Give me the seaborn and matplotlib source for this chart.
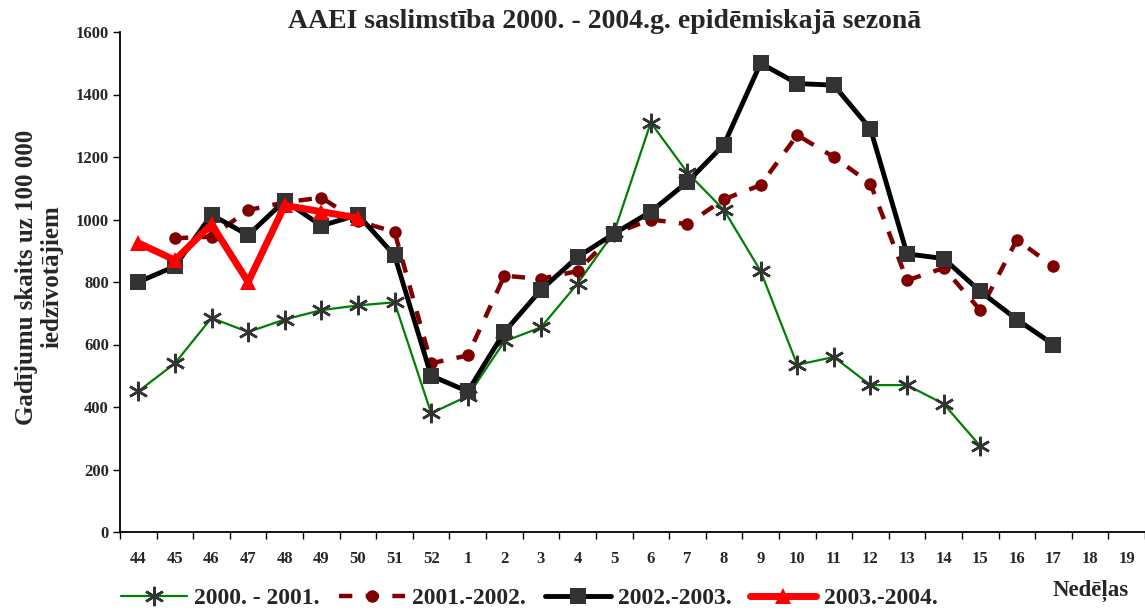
import numpy as np
import pandas as pd
import matplotlib
matplotlib.use("Agg")
import matplotlib.pyplot as plt
import seaborn as sns

# Weeks of the epidemic season
weeks = ["44", "45", "46", "47", "48", "49", "50", "51", "52",
         "1", "2", "3", "4", "5", "6", "7", "8", "9", "10",
         "11", "12", "13", "14", "15", "16", "17", "18", "19"]

# Incidence per 100 000 inhabitants (None = no data)
s_2000_2001 = [450, 540, 685, 640, 680, 710, 725, 735, 380,
               435, 610, 655, 795, 960, 1310, 1150, 1030, 835, 535,
               560, 470, 470, 410, 275, None, None, None, None]
s_2001_2002 = [None, 940, 945, 1030, 1055, 1070, 995, 960, 540,
               565, 820, 810, 835, 955, 1000, 985, 1065, 1110, 1270,
               1200, 1115, 805, 845, 710, 935, 850, None, None]
s_2002_2003 = [800, 850, 1015, 950, 1060, 980, 1015, 885, 500,
               450, 640, 775, 880, 955, 1025, 1120, 1240, 1500, 1435,
               1430, 1290, 890, 875, 770, 680, 600, None, None]
s_2003_2004 = [925, 870, 985, 800, 1045, 1025, 1005, None, None,
               None, None, None, None, None, None, None, None, None, None,
               None, None, None, None, None, None, None, None, None]

series = [
    ("2000. - 2001.", s_2000_2001),
    ("2001.-2002.", s_2001_2002),
    ("2002.-2003.", s_2002_2003),
    ("2003.-2004.", s_2003_2004),
]

styles = {
    "2000. - 2001.": dict(color="#008000", lw=1.6, marker=(6, 2, 0), ms=14,
                          mfc="#333333", mec="#333333", mew=1.8, ls="-"),
    "2001.-2002.": dict(color="#800000", lw=3.2, marker="o", ms=9,
                        mfc="#800000", mec="#800000", mew=0, ls=(0, (3, 3))),
    "2002.-2003.": dict(color="black", lw=3.5, marker="s", ms=11,
                        mfc="#333333", mec="#333333", mew=0, ls="-"),
    "2003.-2004.": dict(color="#ff0000", lw=5, marker="^", ms=12,
                        mfc="#ff0000", mec="#ff0000", mew=0, ls="-"),
}

sns.set_theme(style="white")
plt.rcParams["font.family"] = ["Liberation Serif", "DejaVu Serif"]
plt.rcParams["font.weight"] = "bold"

fig = plt.figure(figsize=(11.45, 6.13), dpi=100)
ax = fig.add_axes([120 / 1145, 1 - 532 / 613, 1025 / 1145, 500 / 613])

for name, vals in series:
    df = pd.DataFrame({"pos": np.arange(len(weeks)), "value": vals}).dropna()
    st = styles[name]
    sns.lineplot(data=df, x="pos", y="value", ax=ax, label=name,
                 color=st["color"], linewidth=st["lw"], linestyle=st["ls"],
                 marker=st["marker"], markersize=st["ms"],
                 markerfacecolor=st["mfc"], markeredgecolor=st["mec"],
                 markeredgewidth=st["mew"], legend=False)

ax.set_xlim(-0.5, len(weeks) - 0.5)
ax.set_ylim(0, 1600)
ax.set_yticks(range(0, 1601, 200))
ax.set_yticklabels([str(v) for v in range(0, 1601, 200)], fontsize=12, fontweight="bold")

# ticks on the category boundaries, labels at the centres
ax.set_xticks(np.arange(len(weeks) + 1) - 0.5)
ax.set_xticklabels([])
ax.set_xticks(np.arange(len(weeks)), minor=True)
ax.set_xticklabels(weeks, minor=True, fontsize=12, fontweight="bold")
ax.tick_params(axis="x", which="major", direction="out", length=5, width=1, color="black", bottom=True)
ax.tick_params(axis="x", which="minor", length=0, pad=14)
ax.tick_params(axis="y", direction="out", length=5, width=1, color="black", left=True, pad=3)

for side in ["top", "right"]:
    ax.spines[side].set_visible(False)
for side in ["left", "bottom"]:
    ax.spines[side].set_color("black")
    ax.spines[side].set_linewidth(1.3)
ax.grid(False)

ax.set_ylabel("Gadījumu skaits uz 100 000\niedzīvotājiem", fontsize=18, fontweight="bold",
              linespacing=1.15)
ax.yaxis.set_label_coords(-0.055, 0.51)
ax.set_xlabel("Nedēļas", fontsize=16.5, fontweight="bold")
ax.xaxis.set_label_coords(0.947, -0.096)

fig.text(605 / 1145, 1 - 22 / 613, "AAEI saslimstība 2000. - 2004.g. epidēmiskajā sezonā",
         ha="center", va="center", fontsize=20, fontweight="bold")

handles, labels = ax.get_legend_handles_labels()
fig.legend(handles, labels, loc="center left", bbox_to_anchor=(100 / 1145, 1 - 598 / 613),
           ncol=4, frameon=False, handlelength=2.8, handletextpad=0.3, columnspacing=0.8,
           prop={"size": 17, "weight": "bold"})

fig.savefig("out.png", dpi=100)
